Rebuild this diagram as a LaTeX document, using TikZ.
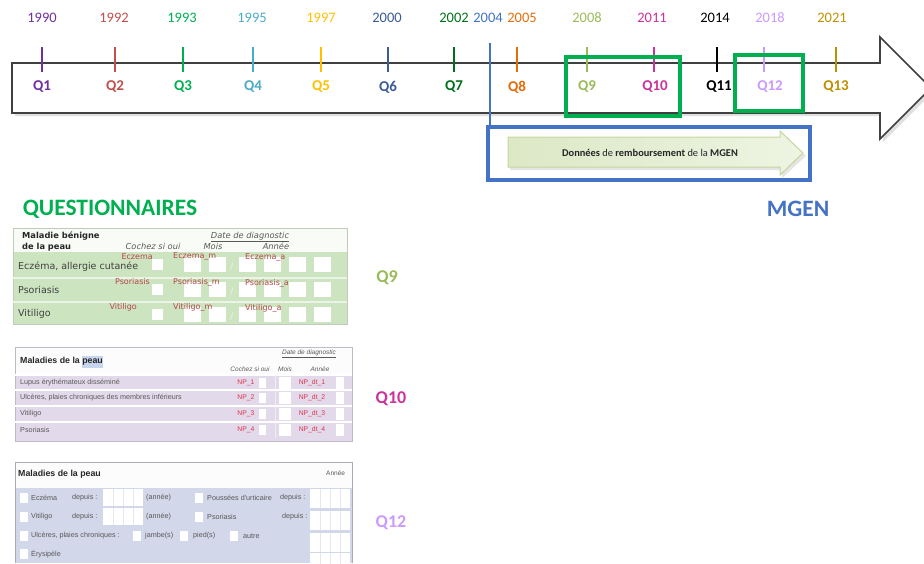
\documentclass[tikz,border=0pt]{standalone}
\usepackage{fontspec}
\setmainfont{Carlito}
\newfontfamily\formfont{DejaVu Sans}
\newfontfamily\condfont{Liberation Sans}
\usetikzlibrary{positioning}

\definecolor{qviolet}{HTML}{7030A0}
\definecolor{qbrick}{HTML}{C0504D}
\definecolor{qgreen}{HTML}{00B050}
\definecolor{qcyan}{HTML}{4BACC6}
\definecolor{qgold}{HTML}{FFC000}
\definecolor{qnavy}{HTML}{3B5A98}
\definecolor{qforest}{HTML}{00701A}
\definecolor{qblue}{HTML}{4472C4}
\definecolor{qorange}{HTML}{E46C0A}
\definecolor{qolive}{HTML}{9BBB59}
\definecolor{qmagenta}{HTML}{CC3399}
\definecolor{qlilac}{HTML}{CC99FF}
\definecolor{qochre}{HTML}{BF9000}
\definecolor{formgreen}{HTML}{CDE4C1}
\definecolor{formlilac}{HTML}{E2DAEA}
\definecolor{formslate}{HTML}{D2D7E9}
\definecolor{fieldred}{HTML}{B5474B}
\definecolor{npred}{HTML}{E0304A}
\definecolor{mgleft}{HTML}{DCE8C6}
\definecolor{mgright}{HTML}{EEF4E2}
\definecolor{mgline}{HTML}{C3D69B}

\tikzset{
  yearlbl/.style={font=\fontsize{14.5}{16}\selectfont, inner sep=0pt},
  qlbl/.style={font=\bfseries\fontsize{15}{17}\selectfont, inner sep=0pt},
  ticker/.style={line width=1.6pt},
  framebox/.style={draw=qgreen, line width=3.8pt},
  bigtitle/.style={font=\bfseries\fontsize{23.5}{25}\selectfont, inner sep=0pt},
  sidelbl/.style={font=\bfseries\fontsize{18}{20}\selectfont, inner sep=0pt},
  formtxt/.style={font=\formfont\fontsize{9.5}{10}\selectfont, text=black!75, anchor=west, inner sep=0pt},
  formhead/.style={font=\formfont\bfseries\fontsize{8.3}{9}\selectfont, text=black!85, anchor=west, inner sep=0pt},
  formital/.style={font=\formfont\itshape\fontsize{8.3}{9}\selectfont, text=black!65, inner sep=0pt},
  fieldlbl/.style={font=\formfont\fontsize{8}{9}\selectfont, text=fieldred, inner sep=0pt},
  condtxt/.style={font=\condfont\fontsize{7.2}{8}\selectfont, text=black!65, anchor=west, inner sep=0pt},
  condital/.style={font=\condfont\itshape\fontsize{6.5}{7}\selectfont, text=black!65, inner sep=0pt},
  condred/.style={font=\condfont\fontsize{6.8}{7}\selectfont, text=npred, inner sep=0pt},
}

\begin{document}
\begin{tikzpicture}[x=1pt, y=-1pt]
    \useasboundingbox (0,0) rectangle (924,563);

    % Frise
    \fill[black!12] (15,66) -- (883,66) -- (883,40) -- (934,91) -- (883,142) -- (883,116) -- (15,116) -- cycle;
    \draw[black!75, line width=1.6pt, fill=white] (12,63) -- (880,63) -- (880,37) -- (931,88) -- (880,139) -- (880,113) -- (12,113) -- cycle;

    \foreach \n/\tx/\qx/\yx/\yr/\col in {
        1/42/42/42/1990/qviolet,
        2/115/115/114/1992/qbrick,
        3/183/183/182/1993/qgreen,
        4/253/253/252/1995/qcyan,
        5/321/321/321/1997/qgold,
        6/388/388/387/2000/qnavy,
        7/454/454/454/2002/qforest,
        8/517/517/522/2005/qorange,
        9/587/587/587/2008/qolive,
        10/654/655/652/2011/qmagenta,
        11/717/719/715/2014/black,
        12/764/770/770/2018/qlilac,
        13/836/836/832/2021/qochre%
        } {
        \draw[ticker, \col] (\tx,47) -- (\tx,72);
        \node[yearlbl, text=\col] (y\n) at (\yx,18) {\yr};
        \node[qlbl, text=\col] (q\n) at (\qx,87) {Q\n};
    }

    % Questionnaires retenus
    \draw[framebox] (566,57) rectangle (680,116);
    \draw[framebox] (735,55) rectangle (803,111);

    % MGEN
    \node[yearlbl, text=qblue] (y2004) at (488,18) {2004};
    \coordinate (mgtop) at (490,43);
    \node[draw=qblue, line width=3.8pt, minimum width=322pt, minimum height=53pt, inner sep=0pt] (mgbox) at (649,153.5) {};
    \draw[qblue, line width=1.4pt] (mgtop) -- (mgtop |- mgbox.north);
    \fill[black!10] (510,140) -- (782,140) -- (782,134) -- (806,156) -- (782,178) -- (782,170) -- (510,170) -- cycle;
    \draw[mgline, line width=1pt, left color=mgleft, right color=mgright] (508,137) -- (780,137) -- (780,131) -- (803,153) -- (780,175) -- (780,167) -- (508,167) -- cycle;
    \node[font=\fontsize{10.4}{11}\selectfont, text=black!85] (mgtxt) at (650,153) {\textbf{Données} de \textbf{remboursement} de la \textbf{MGEN}};

    \node[bigtitle, text=qgreen] (quest) at (110,209) {QUESTIONNAIRES};
    \node[bigtitle, text=qblue] (mgen) at (798,209) {MGEN};

    % Formulaire Q9
    \fill[formgreen] (13,228) rectangle (347,324);
    \fill[white!85!formgreen] (13,228) rectangle (347,252);
    \draw[formgreen!80!black!70, line width=0.6pt] (13,228) rectangle (347,324);
    \foreach \yl in {278,302} {
        \draw[white!60!formgreen, line width=1.2pt] (13,\yl) -- (347,\yl);
    }
    \node[formhead] (q9h1) at (22,236) {Maladie bénigne};
    \node[formhead] (q9h2) at (22,247) {de la peau};
    \node[formital] (q9c) at (153,246) {Cochez si oui};
    \node[formital] (q9d) at (250,237) {\underline{Date de diagnostic}};
    \node[formital] (q9m) at (213,246) {Mois};
    \node[formital] (q9a) at (276,246) {Année};
    \foreach \yt/\yc/\txt/\fa/\ex/\fb/\fc in {
        257/267/{Eczéma, allergie cutanée}/Eczema/153/Eczema\_m/Eczema\_a,
        282/290/Psoriasis/Psoriasis/150/Psoriasis\_m/Psoriasis\_a,
        307/314/Vitiligo/Vitiligo/137/Vitiligo\_m/Vitiligo\_a%
        } {
        \fill[white] (152,\yt+2) rectangle (163,\yt+13);
        \foreach \bx in {184,209,239,264,289,314} {
            \fill[white] (\bx,\yt) rectangle (\bx+17,\yt+15);
        }
        \node[white!60!formgreen, font=\formfont\fontsize{9}{9}\selectfont, inner sep=0pt] at (232,\yt+10) {/};
        \node[formtxt] at (18,\yc) {\txt};
        \node[fieldlbl, anchor=east] at (\ex,\yt) {\fa};
        \node[fieldlbl, anchor=west] at (173,\yt) {\fb};
        \node[fieldlbl, anchor=west] at (245,\yt+1) {\fc};
    }
    \node[sidelbl, text=qolive] (lbl9) at (387,278) {Q9};

    % Formulaire Q10
    \fill[formlilac] (15,347) rectangle (352,441);
    \fill[white!92!formlilac] (15,347) rectangle (352,375);
    \draw[formlilac!85!black, line width=0.6pt] (15,347) rectangle (352,441);
    \node[formhead, font=\condfont\bfseries\fontsize{8.8}{9}\selectfont] (q10h) at (20,362) {Maladies de la \colorbox{qblue!30}{\hspace*{-3pt}peau\hspace*{-3pt}}};
    \node[condital] (q10d) at (309,354) {\underline{Date de diagnostic}};
    \node[condital] (q10c) at (250,369) {Cochez si oui};
    \node[condital] (q10m) at (285,369) {Mois};
    \node[condital] (q10a) at (320,369) {Année};
    \foreach \yt/\txt/\k in {
        375/Lupus érythémateux disséminé/1,
        390/{Ulcères, plaies chroniques des membres inférieurs}/2,
        406/Vitiligo/3,
        422/Psoriasis/4%
        } {
        \draw[white, line width=1.2pt] (15,\yt) -- (352,\yt);
        \fill[white] (259,\yt+3) rectangle (266,\yt+13);
        \fill[white] (279,\yt+2) rectangle (291,\yt+14);
        \fill[white] (336,\yt+2) rectangle (344,\yt+14);
        \draw[white!50!formlilac, line width=0.6pt] (275,\yt) -- (275,\yt+16);
        \node[condtxt] at (20,\yt+8) {\txt};
        \node[condred] at (246,\yt+8) {NP\_\k};
        \node[condred] at (312,\yt+8) {NP\_dt\_\k};
    }
    \node[sidelbl, text=qmagenta] (lbl10) at (391,399) {Q10};

    % Formulaire Q12
    \fill[white!93!formslate] (15,462) rectangle (352,488);
    \fill[formslate] (15,488) rectangle (352,563);
    \draw[formslate!80!black, line width=0.5pt] (15,462) -- (352,462) -- (352,563) (15,563) -- (15,462);
    \node[formhead, font=\condfont\bfseries\fontsize{8.8}{9}\selectfont] (q12h) at (18,474) {Maladies de la peau};
    \node[condtxt, font=\condfont\fontsize{6.5}{7}\selectfont] (q12a) at (326,473) {Année};
    \foreach \gy in {489,511,533,553} {
        \fill[white] (310,\gy) rectangle (350,\gy+19);
        \foreach \gx in {320,330,340} {
            \draw[formslate!60, line width=0.5pt] (\gx,\gy) -- (\gx,\gy+19);
        }
    }
    \foreach \gy in {489,508} {
        \fill[white] (103,\gy) rectangle (143,\gy+17);
        \foreach \gx in {113,123,133} {
            \draw[formslate!60, line width=0.5pt] (\gx,\gy) -- (\gx,\gy+17);
        }
    }
    \foreach \cx/\cy in {20/498, 20/517, 20/536, 20/554, 195/498, 195/517, 133/536, 180/536, 230/536} {
        \fill[white] (\cx,\cy-5) rectangle (\cx+8,\cy+5);
    }
    \node[condtxt] at (31,498) {Eczéma};
    \node[condtxt] at (72,498) {depuis :};
    \node[condtxt] at (146,498) {(année)};
    \node[condtxt] at (207,498) {Poussées d'urticaire};
    \node[condtxt] at (280,498) {depuis :};
    \node[condtxt] at (31,517) {Vitiligo};
    \node[condtxt] at (72,517) {depuis :};
    \node[condtxt] at (146,517) {(année)};
    \node[condtxt] at (207,517) {Psoriasis};
    \node[condtxt] at (282,517) {depuis :};
    \node[condtxt] at (31,536) {Ulcères, plaies chroniques :};
    \node[condtxt] at (145,536) {jambe(s)};
    \node[condtxt] at (193,536) {pied(s)};
    \node[condtxt] at (243,536) {autre};
    \node[condtxt] at (31,554) {Érysipèle};
    \node[sidelbl, text=qlilac] (lbl12) at (391,523) {Q12};
\end{tikzpicture}
\end{document}
